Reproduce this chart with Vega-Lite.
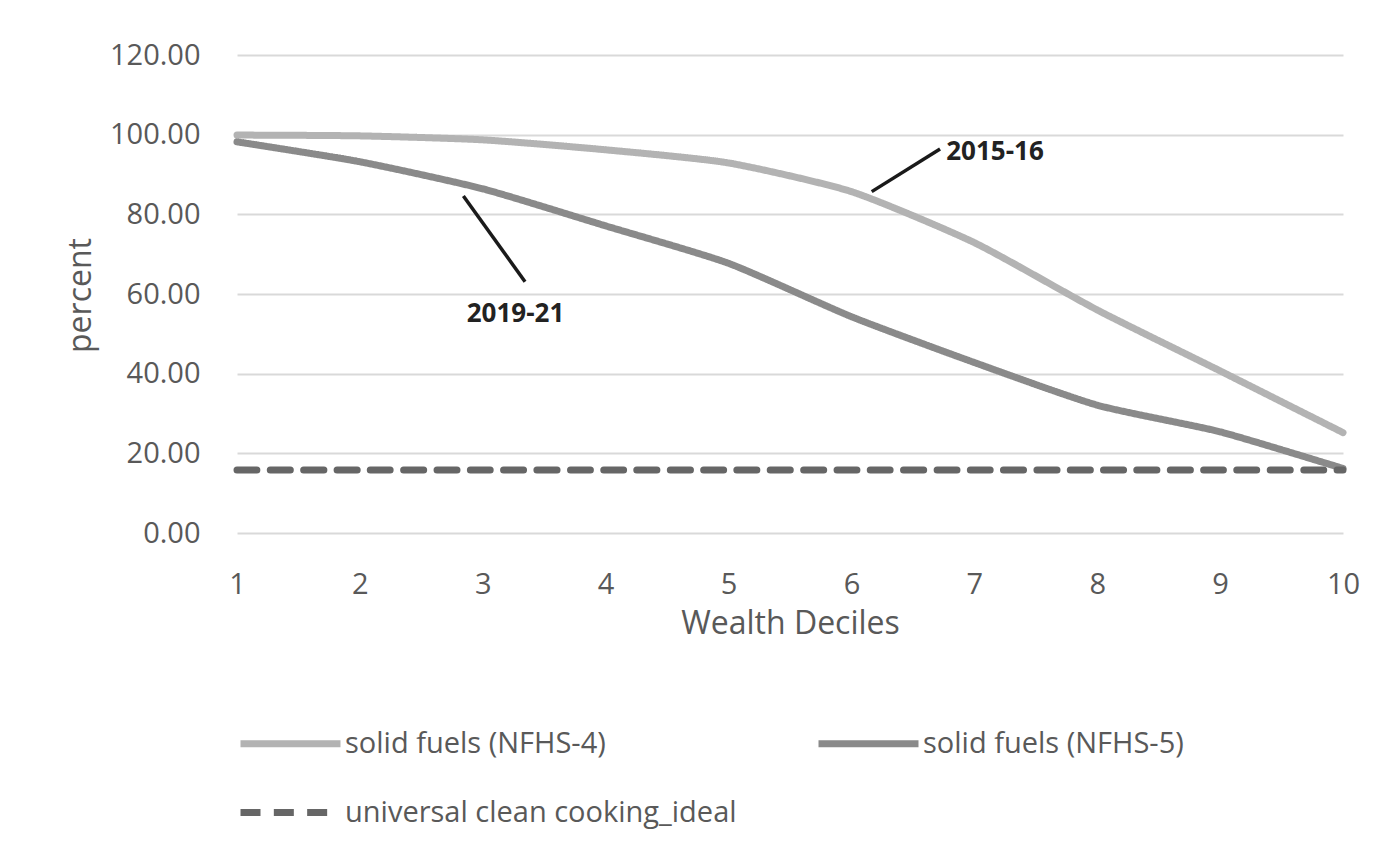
{
  "$schema": "https://vega.github.io/schema/vega-lite/v6.json",
  "width": 1106,
  "height": 478,
  "autosize": {"type": "none"},
  "padding": {"left": 237, "top": 55, "right": 56, "bottom": 324},
  "background": "white",
  "config": {
    "font": "Open Sans",
    "view": {"stroke": null},
    "legend": {"symbolType": "stroke"}
  },
  "datasets": {
    "series": [
      {"decile": 1, "percent": 99.9, "series": "solid fuels (NFHS-4)"},
      {"decile": 2, "percent": 99.7, "series": "solid fuels (NFHS-4)"},
      {"decile": 3, "percent": 98.7, "series": "solid fuels (NFHS-4)"},
      {"decile": 4, "percent": 96.2, "series": "solid fuels (NFHS-4)"},
      {"decile": 5, "percent": 92.9, "series": "solid fuels (NFHS-4)"},
      {"decile": 6, "percent": 85.7, "series": "solid fuels (NFHS-4)"},
      {"decile": 7, "percent": 72.9, "series": "solid fuels (NFHS-4)"},
      {"decile": 8, "percent": 56.0, "series": "solid fuels (NFHS-4)"},
      {"decile": 9, "percent": 40.7, "series": "solid fuels (NFHS-4)"},
      {"decile": 10, "percent": 25.2, "series": "solid fuels (NFHS-4)"},
      {"decile": 1, "percent": 98.2, "series": "solid fuels (NFHS-5)"},
      {"decile": 2, "percent": 93.2, "series": "solid fuels (NFHS-5)"},
      {"decile": 3, "percent": 86.4, "series": "solid fuels (NFHS-5)"},
      {"decile": 4, "percent": 77.1, "series": "solid fuels (NFHS-5)"},
      {"decile": 5, "percent": 67.7, "series": "solid fuels (NFHS-5)"},
      {"decile": 6, "percent": 54.3, "series": "solid fuels (NFHS-5)"},
      {"decile": 7, "percent": 42.8, "series": "solid fuels (NFHS-5)"},
      {"decile": 8, "percent": 32.1, "series": "solid fuels (NFHS-5)"},
      {"decile": 9, "percent": 25.4, "series": "solid fuels (NFHS-5)"},
      {"decile": 10, "percent": 16.2, "series": "solid fuels (NFHS-5)"},
      {"decile": 1, "percent": 15.8, "series": "universal clean cooking_ideal"},
      {"decile": 2, "percent": 15.8, "series": "universal clean cooking_ideal"},
      {"decile": 3, "percent": 15.8, "series": "universal clean cooking_ideal"},
      {"decile": 4, "percent": 15.8, "series": "universal clean cooking_ideal"},
      {"decile": 5, "percent": 15.8, "series": "universal clean cooking_ideal"},
      {"decile": 6, "percent": 15.8, "series": "universal clean cooking_ideal"},
      {"decile": 7, "percent": 15.8, "series": "universal clean cooking_ideal"},
      {"decile": 8, "percent": 15.8, "series": "universal clean cooking_ideal"},
      {"decile": 9, "percent": 15.8, "series": "universal clean cooking_ideal"},
      {"decile": 10, "percent": 15.8, "series": "universal clean cooking_ideal"}
    ],
    "leaders": [
      {"x": 6.165, "y": 85.7, "x2": 6.721, "y2": 96.4},
      {"x": 2.842, "y": 84.6, "x2": 3.344, "y2": 63.1}
    ],
    "notes": [
      {"label": "2015-16", "x": 7.168, "y": 93.65},
      {"label": "2019-21", "x": 3.266, "y": 52.97}
    ]
  },
  "layer": [
    {
      "data": {"name": "series"},
      "mark": {"type": "line", "interpolate": "cardinal", "tension": 0.4, "strokeWidth": 7, "strokeCap": "round"},
      "encoding": {
        "x": {
          "field": "decile",
          "type": "quantitative",
          "scale": {"domain": [1, 10], "nice": false, "zero": false},
          "axis": {
            "title": "Wealth Deciles",
            "values": [1, 2, 3, 4, 5, 6, 7, 8, 9, 10],
            "format": "d",
            "grid": false,
            "domain": false,
            "ticks": false,
            "labelFlush": false,
            "labelOverlap": false,
            "labelFontSize": 29,
            "labelColor": "#595959",
            "labelPadding": 37,
            "titleFontSize": 32,
            "titleFontWeight": "normal",
            "titleColor": "#595959",
            "titleY": 100,
            "titleBaseline": "alphabetic"
          }
        },
        "y": {
          "field": "percent",
          "type": "quantitative",
          "scale": {"domain": [0, 120], "nice": false},
          "axis": {
            "title": "percent",
            "values": [0, 20, 40, 60, 80, 100, 120],
            "format": ".2f",
            "domain": false,
            "ticks": false,
            "grid": true,
            "gridColor": "#d9d9d9",
            "gridWidth": 2,
            "labelFontSize": 29,
            "labelColor": "#595959",
            "labelPadding": 37,
            "titleFontSize": 32,
            "titleFontWeight": "normal",
            "titleColor": "#595959",
            "titleAngle": -90,
            "titleX": -147,
            "titleY": 240,
            "titleAlign": "center",
            "titleBaseline": "alphabetic"
          }
        },
        "color": {
          "field": "series",
          "type": "nominal",
          "scale": {
            "domain": ["solid fuels (NFHS-4)", "solid fuels (NFHS-5)", "universal clean cooking_ideal"],
            "range": ["#b3b3b3", "#8a8a8a", "#666666"]
          },
          "legend": {
            "title": null,
            "orient": "none",
            "direction": "horizontal",
            "legendX": 0,
            "legendY": 635,
            "columns": 2,
            "columnPadding": 67,
            "rowPadding": 0,
            "symbolSize": 10000,
            "symbolStrokeWidth": 7,
            "labelFontSize": 29,
            "labelColor": "#595959",
            "labelOffset": 1,
            "labelLimit": 600
          }
        },
        "strokeDash": {
          "field": "series",
          "type": "nominal",
          "scale": {
            "domain": ["solid fuels (NFHS-4)", "solid fuels (NFHS-5)", "universal clean cooking_ideal"],
            "range": [[1, 0], [1, 0], [20, 13.33]]
          },
          "legend": {
            "title": null,
            "orient": "none",
            "direction": "horizontal",
            "legendX": 0,
            "legendY": 635,
            "columns": 2,
            "columnPadding": 67,
            "rowPadding": 0,
            "symbolSize": 10000,
            "symbolStrokeWidth": 7,
            "labelFontSize": 29,
            "labelColor": "#595959",
            "labelOffset": 1,
            "labelLimit": 600
          }
        }
      }
    },
    {
      "data": {"name": "leaders"},
      "mark": {"type": "rule", "color": "#1a1a1a", "strokeWidth": 3.5},
      "encoding": {
        "x": {"field": "x", "type": "quantitative"},
        "y": {"field": "y", "type": "quantitative"},
        "x2": {"field": "x2"},
        "y2": {"field": "y2"}
      }
    },
    {
      "data": {"name": "notes"},
      "mark": {"type": "text", "fontWeight": "bold", "fontSize": 26, "color": "#222222", "align": "center", "baseline": "alphabetic"},
      "encoding": {
        "x": {"field": "x", "type": "quantitative"},
        "y": {"field": "y", "type": "quantitative"},
        "text": {"field": "label"}
      }
    }
  ]
}
